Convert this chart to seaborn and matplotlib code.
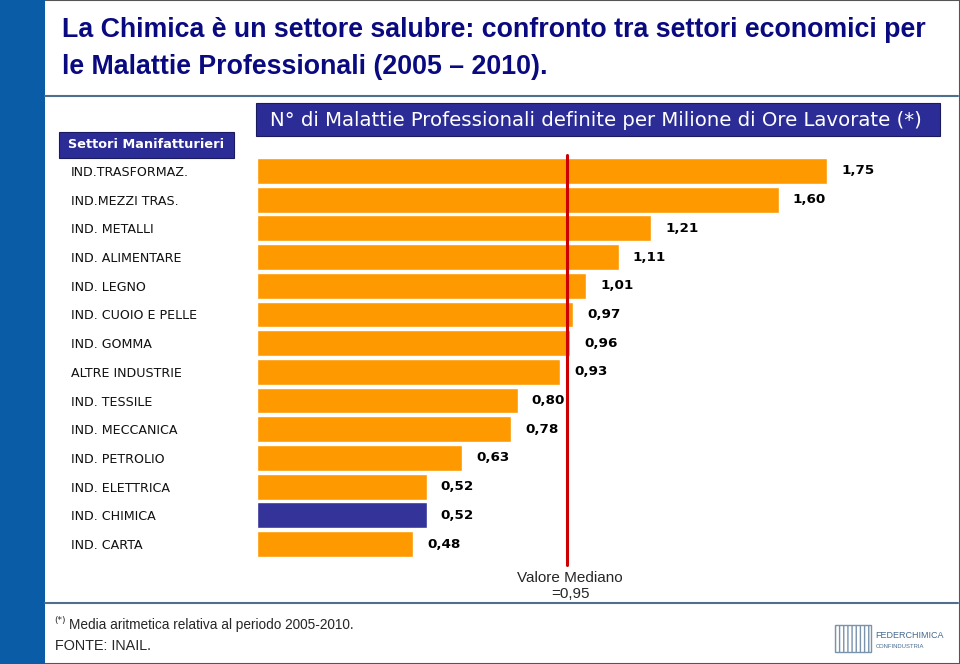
import matplotlib
matplotlib.use("Agg")
import matplotlib.pyplot as plt
import seaborn as sns
import pandas as pd
from matplotlib import font_manager
from matplotlib.patches import Rectangle, FancyBboxPatch
from matplotlib.lines import Line2D

categories = ["IND.TRASFORMAZ.", "IND.MEZZI TRAS.", "IND. METALLI", "IND. ALIMENTARE",
              "IND. LEGNO", "IND. CUOIO E PELLE", "IND. GOMMA", "ALTRE INDUSTRIE",
              "IND. TESSILE", "IND. MECCANICA", "IND. PETROLIO", "IND. ELETTRICA",
              "IND. CHIMICA", "IND. CARTA"]
values = [1.75, 1.60, 1.21, 1.11, 1.01, 0.97, 0.96, 0.93, 0.80, 0.78, 0.63, 0.52, 0.52, 0.48]
highlight = "IND. CHIMICA"
median_value = 0.95

title_lines = ["La Chimica è un settore salubre: confronto tra settori economici per",
               "le Malattie Professionali (2005 – 2010)."]
header_left = "Settori Manifatturieri"
header_right = "N° di Malattie Professionali definite per Milione di Ore Lavorate (*)"
median_label = "Valore Mediano\n=0,95"
note = "Media aritmetica relativa al periodo 2005-2010."
source = "FONTE: INAIL."

sns.set_style("white")
names = {f.name for f in font_manager.fontManager.ttflist}
narrow = "Liberation Sans Narrow" if "Liberation Sans Narrow" in names else "Liberation Sans"
plt.rcParams["font.family"] = ["DejaVu Sans"]

W, H = 960, 664
fig = plt.figure(figsize=(9.6, 6.64), dpi=100)
fig.patch.set_facecolor("white")

def fx(px):
    return px / W

def fy(py):
    return 1 - py / H

# slide frame
fig.patches.append(Rectangle((0, 0), 1, 1, transform=fig.transFigure, fill=False,
                             edgecolor="#555555", linewidth=1.5))
fig.patches.append(Rectangle((0, 0), fx(45), 1, transform=fig.transFigure,
                             facecolor="#0b5ca6", edgecolor="none"))
fig.lines.append(Line2D([fx(45), fx(958)], [fy(96), fy(96)], transform=fig.transFigure,
                        color="#4f6f8f", linewidth=1.5))
fig.lines.append(Line2D([fx(45), fx(958)], [fy(603), fy(603)], transform=fig.transFigure,
                        color="#4f6f8f", linewidth=1.5))

# title
title_size = 20 if narrow != "Liberation Sans" else 19.3
for i, line in enumerate(title_lines):
    fig.text(fx(62), fy(30 + 37 * i), line, fontsize=title_size, fontweight="bold",
             family=narrow, color="#0a0a80", va="center", ha="left")

# header boxes
fig.patches.append(FancyBboxPatch((fx(59), fy(158)), fx(175), fy(132) - fy(158),
                                  boxstyle="square,pad=0", transform=fig.transFigure,
                                  facecolor="#2c2c96", edgecolor="#1a1a60", linewidth=0.8))
fig.text(fx(146), fy(145), header_left, color="white", fontsize=9.3, fontweight="bold",
         ha="center", va="center")
fig.patches.append(FancyBboxPatch((fx(256), fy(136)), fx(684), fy(103) - fy(136),
                                  boxstyle="square,pad=0", transform=fig.transFigure,
                                  facecolor="#2c2c96", edgecolor="#1a1a60", linewidth=0.8))
fig.text(fx(596), fy(120), header_right, color="white", fontsize=14.2,
         ha="center", va="center")

# main bar chart
ax_left, ax_right = 257, 940
ax_top, ax_bottom = 156.6, 558.4
ax = fig.add_axes([fx(ax_left), fy(ax_bottom), fx(ax_right - ax_left), fy(ax_top) - fy(ax_bottom)])
df = pd.DataFrame({"settore": categories, "valore": values})
palette = {c: ("#333399" if c == highlight else "#ff9900") for c in categories}
sns.barplot(data=df, x="valore", y="settore", hue="settore", palette=palette, legend=False,
            orient="h", width=0.9, saturation=1, ax=ax)
scale = 326.0
ax.set_xlim(0, (ax_right - ax_left) / scale)
ax.set_ylim(len(categories) - 0.5, -0.5)
for s in ax.spines.values():
    s.set_visible(False)
ax.set_xticks([])
ax.set_xlabel("")
ax.set_ylabel("")
ax.tick_params(axis="y", length=0, pad=(ax_left - 71) * 0.72)
for lab in ax.get_yticklabels():
    lab.set_ha("left")
    lab.set_fontsize(9.1)
    lab.set_color("#111111")

for i, v in enumerate(values):
    ax.text(v + 14 / scale, i, f"{v:.2f}".replace(".", ","), va="center", ha="left",
            fontsize=9.7, fontweight="bold", color="black")

ax.axvline(median_value, ymin=-0.016, ymax=1.004, color="#cc0000", linewidth=2.2,
           clip_on=False, zorder=5)
fig.text(fx(570), fy(586), median_label, family="Liberation Sans", fontsize=11,
         ha="center", va="center", linespacing=1.2)

# footnotes
fig.text(fx(54), fy(620), "(*)", fontsize=6.5, ha="left", va="center")
fig.text(fx(69), fy(625), note, family="Liberation Sans", fontsize=9.8, ha="left", va="center")
fig.text(fx(55), fy(646), source, family="Liberation Sans", fontsize=10.4, ha="left", va="center")

# logo
fig.text(fx(875), fy(635), "FEDERCHIMICA", family="Liberation Sans", fontsize=6.5,
         color="#46698f", ha="left", va="center")
fig.text(fx(876), fy(647), "CONFINDUSTRIA", family="Liberation Sans", fontsize=4.2,
         color="#46698f", ha="left", va="center")
fig.patches.append(Rectangle((fx(835), fy(652)), fx(36), fy(625) - fy(652),
                             transform=fig.transFigure, facecolor="none",
                             edgecolor="#7a93ad", linewidth=1, hatch="||||"))

fig.savefig("out.png", dpi=100)
